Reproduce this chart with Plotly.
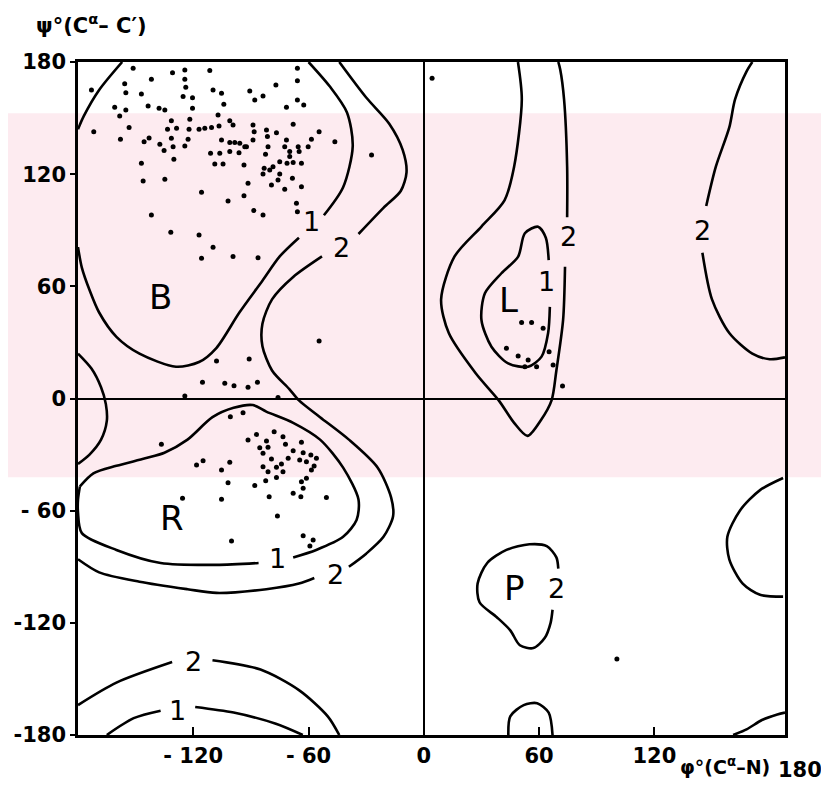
import plotly.graph_objects as go

# ---------------- data (phi, psi in degrees) ----------------
# observed residues, beta region
beta_phi = [-173.0, -151.3, -130.8, -124.4, -111.4, -65.8, -124.4, -123.9, -155.7, -141.8,
            -155.1, -147.0, -125.3, -120.4, -109.7, -105.3, -90.6, -88.0, -83.7, -77.0,
            -65.8, -65.8, -71.5, -62.5, -160.9, -158.3, -155.1, -143.5, -137.8, -134.8,
            -120.4, -121.8, -107.1, -104.1, -131.4, -153.4, -171.8, -157.9, -145.6, -143.0,
            -137.4, -135.2, -133.4, -128.7, -122.2, -117.0, -114.0, -110.5, -106.6, -101.0,
            -99.3, -88.9, -88.3, -81.9, -76.7, -68.0, -71.5, -81.4, -81.1, -88.9,
            -92.3, -95.8, -105.3, -101.0, -98.4, -111.0, -106.2, -101.0, -96.2, -93.2,
            -72.4, -69.8, -65.4, -58.5, -60.2, -54.5, -46.3, -27.2, -64.9, -82.4,
            -69.8, -68.0, -71.2, -63.7, -75.0, -78.5, -80.2, -83.1, -83.7, -75.0,
            -75.9, -79.3, -72.4, -68.4, -63.7, -91.5, -93.6, -104.5, -108.8, -124.4,
            -130.5, -131.4, -122.7, -130.1, -147.0, -146.1, -134.8, -115.7, -101.9, -93.6,
            -88.5, -83.7, -66.3, -65.8, -141.8, -131.7, -117.0, -109.7, -115.7, -99.3,
            -86.3]
beta_psi = [165.0, 176.6, 174.3, 175.7, 175.4, 176.6, 170.8, 166.5, 168.3, 170.8,
            163.6, 162.9, 161.5, 160.9, 165.0, 163.3, 164.5, 159.7, 161.8, 167.7,
            170.0, 159.7, 155.8, 157.0, 155.8, 151.1, 154.3, 156.5, 155.3, 154.3,
            155.3, 149.4, 151.7, 157.4, 148.6, 144.9, 142.7, 138.7, 137.4, 139.4,
            136.0, 132.6, 144.0, 144.6, 144.0, 144.0, 144.6, 144.9, 145.8, 148.6,
            146.3, 146.3, 142.7, 143.6, 142.2, 146.7, 138.3, 140.1, 134.7, 138.3,
            134.7, 136.5, 138.3, 136.9, 136.9, 131.2, 131.2, 132.1, 131.5, 134.7,
            134.7, 132.1, 134.7, 138.7, 134.7, 142.7, 137.4, 130.3, 132.1, 130.6,
            129.4, 126.2, 125.8, 125.8, 126.7, 124.0, 122.2, 123.2, 120.1, 120.1,
            116.9, 114.2, 111.9, 117.8, 113.3, 115.1, 124.9, 125.5, 125.5, 135.1,
            134.7, 139.2, 138.7, 128.0, 125.8, 116.4, 117.3, 110.3, 105.7, 108.5,
            100.5, 98.2, 104.4, 99.9, 98.2, 88.9, 87.5, 80.9, 75.0, 75.9,
            75.3]

# bridge region
bridge_phi = [-54.5, -107.9, -90.9, -115.2, -103.6, -98.8, -91.5, -86.6, -124.4, -75.9]
bridge_psi = [30.8, 20.1, 21.1, 8.7, 8.1, 6.8, 6.0, 8.7, 1.3, 0.6]

# right-handed alpha region
alpha_phi = [-100.7, -94.1, -136.6, -91.5, -87.1, -81.9, -77.9, -73.3, -63.7, -72.0,
             -85.4, -81.1, -83.7, -68.0, -62.8, -58.8, -55.9, -64.6, -61.1, -79.3,
             -70.6, -74.1, -57.1, -58.5, -83.7, -76.7, -73.3, -81.1, -76.7, -61.1,
             -63.7, -82.3, -88.0, -62.8, -68.0, -64.0, -50.7, -80.5, -105.3, -101.9,
             -118.3, -114.9, -101.0, -105.3, -125.6, -76.2, -100.1, -62.8, -57.6, -59.3]
alpha_psi = [-9.7, -7.6, -24.5, -22.2, -19.2, -22.7, -17.8, -20.4, -23.4, -24.5,
             -26.3, -26.1, -29.3, -27.9, -29.0, -30.2, -32.0, -32.9, -33.8, -32.4,
             -32.0, -35.0, -36.1, -38.3, -36.5, -36.8, -39.2, -39.2, -42.2, -42.7,
             -44.5, -44.0, -46.5, -48.0, -50.7, -52.5, -52.9, -52.5, -38.3, -45.0,
             -35.6, -33.3, -34.1, -53.9, -53.4, -62.9, -76.2, -73.4, -75.7, -78.9]

# left-handed region and isolated points
left_phi = [50.9, 56.1, 62.1, 43.0, 49.1, 54.3, 52.6, 58.7, 65.2, 67.3, 72.2, 4.3, 100.5]
left_psi = [40.6, 40.6, 37.6, 26.9, 22.7, 20.6, 17.0, 17.0, 25.0, 17.9, 6.7, 171.3, -139.4]

# contour lines (energy levels 1 and 2), each as separate arrays
b1_corner_phi = [-157, -169, -177, -180]
b1_corner_psi = [180, 165, 151, 144]
b1_low_phi = [-180, -178, -174, -169, -160, -148, -129, -117, -108, -96, -84, -75, -65]
b1_low_psi = [81, 70, 58, 46, 33, 24, 17, 19.5, 27, 46, 63, 76, 86]
b1_right_phi = [-52, -42, -37, -40, -49, -60]
b1_right_psi = [98, 113, 135, 153, 167, 180]

b2_top_phi = [-44, -30, -18, -11, -9, -12, -21, -34]
b2_top_psi = [180, 161, 147, 133, 121, 111, 102, 88]
b2_mid_phi = [-53, -68, -79, -84, -84, -79, -70, -65, -54, -39, -24, -17, -16, -21, -30, -39]
b2_mid_psi = [76, 65, 53, 40, 28, 15, 5, -1, -10, -22, -37, -53, -63, -74, -83, -90]
b2_low_phi = [-57, -65, -82, -108, -123, -148, -169, -180]
b2_low_psi = [-96, -99, -102, -104, -102, -98, -93, -86]

r1_a_phi = [-179, -172, -160, -145, -135, -123, -110, -99, -89, -82, -68, -54, -42, -34, -35,
            -42, -56, -68]
r1_a_psi = [-47, -40, -36, -32, -29, -22, -10, -5, -3.5, -7, -13, -22, -37, -54, -65,
            -74, -81, -85]
r1_b_phi = [-86, -108, -137, -160, -178, -180, -180, -179]
r1_b_psi = [-88, -89, -88, -81, -72, -61, -54, -47]

edge_left_phi = [-180, -173, -168, -165.5, -165, -168, -174, -180]
edge_left_psi = [24, 16, 6, -3, -12, -22, -30, -35]
edge_right_phi = [187, 175, 164.5, 158, 159, 166, 175, 187]
edge_right_psi = [-42.5, -49, -60, -74, -86, -99, -105, -106]

tr2_a_phi = [171, 168, 162, 159, 152, 147]
tr2_a_psi = [180, 175, 160, 145, 124, 103]
tr2_b_phi = [145, 150, 159, 171, 180, 188]
tr2_b_psi = [78, 53, 35, 24, 21, 22]

l2_a_phi = [49, 51, 47, 42, 30, 16, 9, 13, 27, 39, 47, 54, 61, 66.5, 69, 72.5, 73.5]
l2_a_psi = [180, 160, 124, 106, 92, 76, 53, 35, 13.5, -1, -13, -20, -11.5, -1, 15, 42, 70.5]
l2_b_phi = [74.6, 74.6, 73, 71, 70]
l2_b_psi = [97, 124, 160, 176, 180]

l1_phi = [65.6, 64.7, 61.3, 54.3, 43.9, 35.2, 30, 31.8, 40.4, 49.1, 52.6, 59.5, 63.5, 65]
l1_psi = [49, 35, 22.4, 17, 18.8, 27.7, 42, 56.3, 67, 75.9, 88.4, 91.9, 86, 74]

p2_phi = [67, 66, 63, 57, 50, 45, 38, 29, 28, 33, 43, 55, 64, 69, 70]
p2_psi = [-113, -120, -128, -133.5, -132, -124, -117, -109, -99, -88, -81, -78, -79, -85, -91]

bot_mid_phi = [44, 45, 52, 59, 65, 67]
bot_mid_psi = [-180, -170, -164, -163, -168, -180]
bot_right_phi = [161, 168, 176, 184, 188]
bot_right_psi = [-180, -177, -172, -169, -168]

bl2_a_phi = [-180, -160, -131]
bl2_a_psi = [-164, -152, -141]
bl2_b_phi = [-110, -85, -65, -50, -44]
bl2_b_psi = [-140, -145, -156, -170, -180]
bl1_a_phi = [-165, -151, -137]
bl1_a_psi = [-180, -171, -167]
bl1_b_phi = [-119, -99, -77, -63]
bl1_b_psi = [-165, -168, -174, -180]

# region and contour labels
label_text = ["B", "1", "2", "R", "1", "2", "2", "1", "L", "1", "2", "2", "P", "2"]
label_phi = [-137, -58.5, -43, -131, -76, -46, -120, -128, 44, 64, 75.5, 145, 47.4, 69]
label_psi = [54.5, 94.6, 81, -64, -85.5, -94.4, -140.8, -166.7, 52.7, 62.5, 86.6, 90.1, -101.5, -101.5]

x_tickvals = [-120, -60, 0, 60, 120]
x_ticktext = ["- 120", "- 60", "0", "60", "120"]
y_tickvals = [-180, -120, -60, 0, 60, 120, 180]
y_ticktext = ["-180", "-120", "- 60", "0", "60", "120", "180"]

# ---------------- figure ----------------
FONT = "DejaVu Sans, sans-serif"
fig = go.Figure()

segments = [
    (b1_corner_phi, b1_corner_psi), (b1_low_phi, b1_low_psi), (b1_right_phi, b1_right_psi),
    (b2_top_phi, b2_top_psi), (b2_mid_phi, b2_mid_psi), (b2_low_phi, b2_low_psi),
    (r1_a_phi, r1_a_psi), (r1_b_phi, r1_b_psi),
    (edge_left_phi, edge_left_psi), (edge_right_phi, edge_right_psi),
    (tr2_a_phi, tr2_a_psi), (tr2_b_phi, tr2_b_psi),
    (l2_a_phi, l2_a_psi), (l2_b_phi, l2_b_psi), (l1_phi, l1_psi),
    (p2_phi, p2_psi), (bot_mid_phi, bot_mid_psi), (bot_right_phi, bot_right_psi),
    (bl2_a_phi, bl2_a_psi), (bl2_b_phi, bl2_b_psi), (bl1_a_phi, bl1_a_psi), (bl1_b_phi, bl1_b_psi),
]
for sx, sy in segments:
    fig.add_trace(go.Scatter(x=sx, y=sy, mode="lines",
                             line=dict(color="black", width=2.6, shape="spline", smoothing=0.8),
                             hoverinfo="skip", showlegend=False))

for px_, py_ in [(beta_phi, beta_psi), (bridge_phi, bridge_psi), (alpha_phi, alpha_psi), (left_phi, left_psi)]:
    fig.add_trace(go.Scatter(x=px_, y=py_, mode="markers",
                             marker=dict(color="black", size=5, line=dict(width=0)),
                             showlegend=False))

annotations = []
for t, ax_, ay_ in zip(label_text, label_phi, label_psi):
    big = t.isalpha()
    annotations.append(dict(x=ax_, y=ay_, xref="x", yref="y", text=t, showarrow=False,
                            xanchor="center", yanchor="middle",
                            font=dict(family=FONT, size=34 if big else 27, color="black")))

annotations.append(dict(x=-0.062, y=1.056, xref="paper", yref="paper",
                        xanchor="left", yanchor="middle",
                        text="ψ°(C<sup>α</sup>– C′)", showarrow=False,
                        font=dict(family=FONT, size=21, color="black", weight="bold")))
annotations.append(dict(x=0.848, y=-0.046, xref="paper", yref="paper",
                        xanchor="left", yanchor="middle",
                        text="φ°(C<sup>α</sup>–N)", showarrow=False,
                        font=dict(family=FONT, size=19, color="black", weight="bold")))
annotations.append(dict(x=0.987, y=-0.052, xref="paper", yref="paper",
                        xanchor="left", yanchor="middle",
                        text="180", showarrow=False,
                        font=dict(family=FONT, size=21, color="black", weight="bold")))

fig.update_layout(
    width=821, height=780,
    margin=dict(l=70, r=44, t=54, b=53, autoexpand=False),
    paper_bgcolor="white", plot_bgcolor="rgba(0,0,0,0)",
    showlegend=False,
    annotations=annotations,
    shapes=[dict(type="rect", xref="paper", yref="paper", x0=-0.12, x1=1.08,
                 y0=0.383, y1=0.924, fillcolor="#fdebf0", line=dict(width=0), layer="below")],
)
fig.update_xaxes(range=[-180, 188], tickvals=x_tickvals, ticktext=x_ticktext, automargin=False,
                 showgrid=False, zeroline=True, zerolinecolor="black", zerolinewidth=1.8,
                 showline=True, mirror=True, linecolor="black", linewidth=2.5,
                 ticks="inside", ticklen=8, tickwidth=2, tickcolor="black",
                 tickfont=dict(family=FONT, size=21, color="black", weight="bold"))
fig.update_yaxes(range=[-180, 180], tickvals=y_tickvals, ticktext=y_ticktext, automargin=False,
                 showgrid=False, zeroline=True, zerolinecolor="black", zerolinewidth=1.8,
                 showline=True, mirror=True, linecolor="black", linewidth=2.5,
                 ticks="outside", ticklen=5, tickwidth=2, tickcolor="black",
                 tickfont=dict(family=FONT, size=21, color="black", weight="bold"))

fig.write_html("out.html")
